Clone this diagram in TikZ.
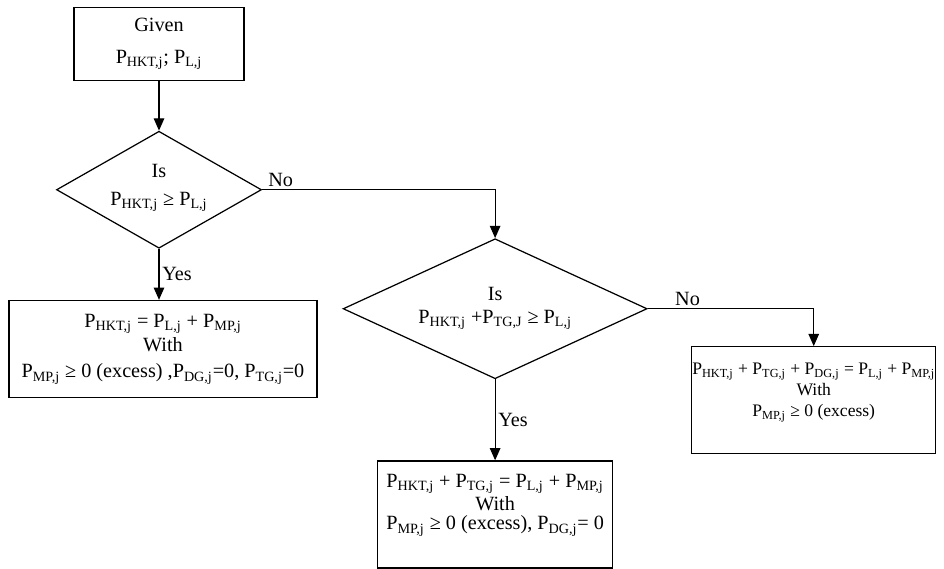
\documentclass[tikz,border=0pt]{standalone}
\usepackage{fontspec}
\setmainfont{Liberation Serif}
\usetikzlibrary{positioning, shapes.geometric, arrows.meta}

\newcommand{\Ps}[1]{P\textsubscript{#1}}

\begin{document}
\begin{tikzpicture}[
    font=\fontsize{11.5}{13}\selectfont,
    box/.style={rectangle, draw, line width=0.7pt, align=center, inner sep=0pt},
    decision/.style={diamond, draw, line width=0.7pt, align=center,
      inner sep=0pt, aspect=2},
    flow/.style={-{Triangle[width=6pt,length=7pt]}, line width=0.7pt},
    tag/.style={inner sep=1.5pt},
  ]
  \useasboundingbox (0,0) rectangle (18.88,-11.36);
  % Nodes
  \node[box, minimum width=3.4cm, minimum height=1.46cm] (given) at (3.18,-0.88)
    {Given\\[5pt] \Ps{HKT,j}; \Ps{L,j}};
  \node[decision, minimum width=4.1cm, minimum height=2.34cm] (isload)
    [below=0.99cm of given] {Is\\[3pt] \Ps{HKT,j} ≥ \Ps{L,j}\rule[-6pt]{0pt}{0pt}};
  \node[box, minimum width=6.16cm, minimum height=1.94cm] (hktonly)
    [below=1.02cm of isload, xshift=0.08cm]
    {\Ps{HKT,j} = \Ps{L,j} + \Ps{MP,j}\\[1pt] With\\[2pt]
      \Ps{MP,j} ≥ 0 (excess) ,\Ps{DG,j}=0, \Ps{TG,j}=0};
  \node[decision, minimum width=6.08cm, minimum height=2.8cm] (istg)
    [below right=2.38cm and 4.66cm of isload.east, anchor=center]
    {Is\\[0pt] \Ps{HKT,j} +\Ps{TG,J} ≥ \Ps{L,j}\rule[-3pt]{0pt}{0pt}};
  \node[box, minimum width=4.7cm, minimum height=2.14cm] (hkttg)
    [below=1.62cm of istg]
    {\Ps{HKT,j} + \Ps{TG,j} = \Ps{L,j} + \Ps{MP,j}\\ With\\[-2pt]
      \Ps{MP,j} ≥ 0 (excess), \Ps{DG,j}= 0\rule[-14pt]{0pt}{0pt}};
  \node[box, minimum width=4.88cm, minimum height=2.14cm,
    font=\fontsize{10}{12}\selectfont] (alldg)
    [below right=1.83cm and 3.32cm of istg.east, anchor=center]
    {\Ps{HKT,j} + \Ps{TG,j} + \Ps{DG,j} = \Ps{L,j} + \Ps{MP,j}\\ With\\
      \Ps{MP,j} ≥ 0 (excess)\rule[-12pt]{0pt}{0pt}};
  % Lines
  \draw[flow] (given) -- (isload);
  \draw[flow] (isload.south) -- node[tag, right] {Yes} (isload.south |- hktonly.north);
  \draw[flow] (isload.east) -| node[tag, pos=0.04, above] {No} (istg.north);
  \draw[flow] (istg) -- node[tag, right] {Yes} (hkttg);
  \draw[flow] (istg.east) -| node[tag, pos=0.12, above] {No} (alldg.north);
\end{tikzpicture}
\end{document}
